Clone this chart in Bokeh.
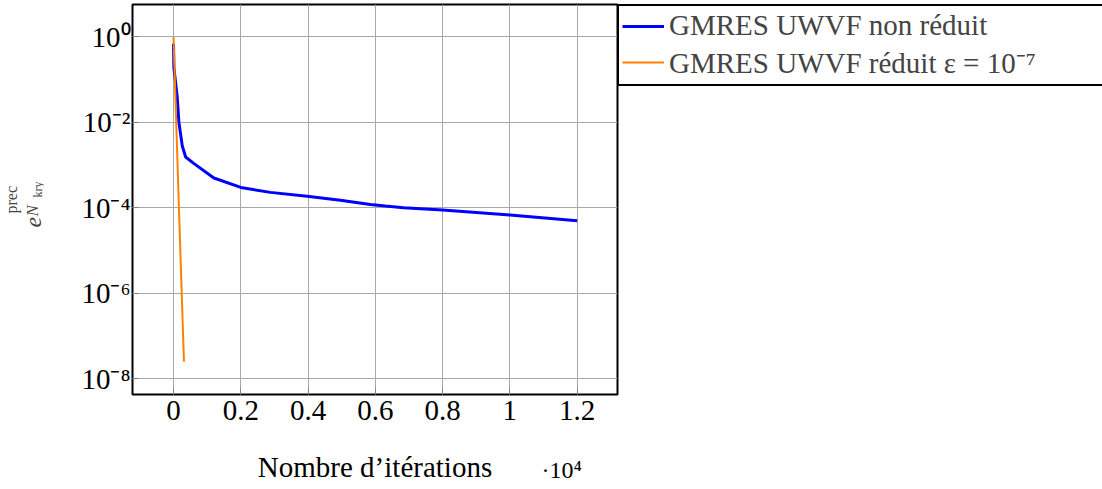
import math
from bokeh.plotting import figure
from bokeh.models import FixedTicker, Legend, LegendItem, Range1d, Label
from bokeh.layouts import row, column
from bokeh.embed import file_html
from bokeh.resources import INLINE

# ---------------- data ----------------
blue_iters = [0, 10, 110, 160, 260, 360, 600, 1200, 2000, 2880, 3970,
              4960, 5850, 6300, 6840, 8000, 10000, 12000]
blue_err = [0.69, 0.19, 0.039, 0.010, 2.8e-3, 1.55e-3, 1.1e-3, 5.0e-4,
            3.0e-4, 2.3e-4, 1.86e-4, 1.5e-4, 1.2e-4, 1.1e-4, 1.0e-4,
            8.9e-5, 6.8e-5, 5.0e-5]
orange_iters = [0, 160, 310]
orange_err = [1.0, 1.0e-4, 2.5e-8]

series_names = ["GMRES UWVF non réduit", "GMRES UWVF réduit ε = 10⁻⁷"]
x_ticks = [0, 2000, 4000, 6000, 8000, 10000, 12000]
x_tick_labels = ["0", "0.2", "0.4", "0.6", "0.8", "1", "1.2"]
y_ticks = [1.0, 1e-2, 1e-4, 1e-6, 1e-8]
y_tick_labels = ["10⁰", "10⁻²", "10⁻⁴", "10⁻⁶", "10⁻⁸"]
x_label = "Nombre d’itérations"
x_scale_label = "·10⁴"
y_label_parts = ["e", "prec", "N", "kry"]

# ---------------- layout ----------------
XMIN, XMAX = -1220, 13200
YMIN, YMAX = -8.37, 0.76  # log10
FONT = "Liberation Serif"
STRIP_W = 44
FRAME_L, FRAME_T, FRAME_W, FRAME_H = 132, 4, 485, 390
AXIS_H = 44
OFF = 9          # extra gap observed above the bottom strip
BOTTOM_H = 41
LEGEND_W = 483

p = figure(frame_width=FRAME_W, frame_height=FRAME_H, y_axis_type="log",
           x_range=Range1d(XMIN, XMAX), y_range=Range1d(10 ** YMIN, 10 ** YMAX),
           output_backend="svg", toolbar_location=None,
           min_border_left=FRAME_L - STRIP_W, min_border_right=0,
           min_border_top=FRAME_T, min_border_bottom=AXIS_H)

p.outline_line_color = "black"
p.outline_line_width = 2
p.outline_line_alpha = 1
p.background_fill_color = "white"
p.border_fill_color = "white"

p.xaxis.ticker = FixedTicker(ticks=x_ticks)
p.xaxis.major_label_overrides = dict(zip(x_ticks, x_tick_labels))
p.yaxis.ticker = FixedTicker(ticks=y_ticks)
p.yaxis.major_label_overrides = dict(zip(y_ticks, y_tick_labels))

for ax in (p.xaxis, p.yaxis):
    ax.axis_line_color = None
    ax.major_tick_in = 6
    ax.major_tick_out = 0
    ax.major_tick_line_color = "#808080"
    ax.minor_tick_line_color = None
    ax.major_label_text_font = FONT
    ax.major_label_text_font_size = "29px"
    ax.major_label_text_color = "black"

p.xaxis.major_label_standoff = 6
p.yaxis.major_label_standoff = 2

p.grid.grid_line_color = "#a8a8a8"
p.grid.grid_line_width = 1

r1 = p.line(blue_iters, blue_err, line_color="#0000ff", line_width=3)
r2 = p.line(orange_iters, orange_err, line_color="#ff8000", line_width=2)

legend = Legend(items=[LegendItem(label=series_names[0], renderers=[r1]),
                       LegendItem(label=series_names[1], renderers=[r2])],
                location="top_left", margin=0, padding=3, spacing=0,
                border_line_color="black", border_line_width=2,
                border_line_alpha=1,
                background_fill_color="white", background_fill_alpha=1,
                label_text_font=FONT, label_text_font_size="29px",
                glyph_width=42, glyph_height=24, label_standoff=5,
                label_width=LEGEND_W - 53, label_height=24)
p.add_layout(legend, "right")


def strip(w, h, left=0, right=0, top=0):
    f = figure(frame_width=w, frame_height=h, x_range=Range1d(0, w),
               y_range=Range1d(0, h), output_backend="svg",
               toolbar_location=None, min_border=0, min_border_top=top,
               min_border_left=left, min_border_right=right,
               x_axis_location=None, y_axis_location=None)
    f.outline_line_color = None
    f.grid.visible = False
    f.background_fill_color = "white"
    f.border_fill_color = "white"
    return f


# left strip (frame aligned with the main frame): y label e^{prec}_{N_kry}
left = strip(STRIP_W, FRAME_H, top=FRAME_T)
lx = [40, 19, 41, 44]          # page x of the text bottom edge
ly = [227, 213, 216, 197]      # page y where each piece starts
lsize = ["24px", "16px", "17px", "12px"]
litalic = [True, False, True, False]
for t, x, y, s, it in zip(y_label_parts, lx, ly, lsize, litalic):
    kw = dict(x=x, y=FRAME_T + FRAME_H - y, text=t, angle=math.pi / 2,
              text_font=FONT, text_font_size=s)
    if it:
        kw["text_font_style"] = "italic"
    left.add_layout(Label(**kw))

# bottom strip (frame aligned with the main frame): x label and scale factor
bottom = strip(FRAME_W, BOTTOM_H, left=FRAME_L - STRIP_W, right=LEGEND_W)
page_bottom = FRAME_T + FRAME_H + AXIS_H + OFF + BOTTOM_H
bottom.add_layout(Label(x=FRAME_W / 2, y=page_bottom - 475, text=x_label,
                        text_font=FONT, text_font_size="29px",
                        text_color="black", text_align="center",
                        text_baseline="alphabetic"))
bottom.add_layout(Label(x=541 - FRAME_L, y=page_bottom - 478,
                        text=x_scale_label, text_font=FONT,
                        text_font_size="24px", text_color="black",
                        text_align="left", text_baseline="alphabetic"))

layout = row(left, column(p, bottom, spacing=0), spacing=0)

open("out.html", "w").write(file_html(layout, INLINE))
